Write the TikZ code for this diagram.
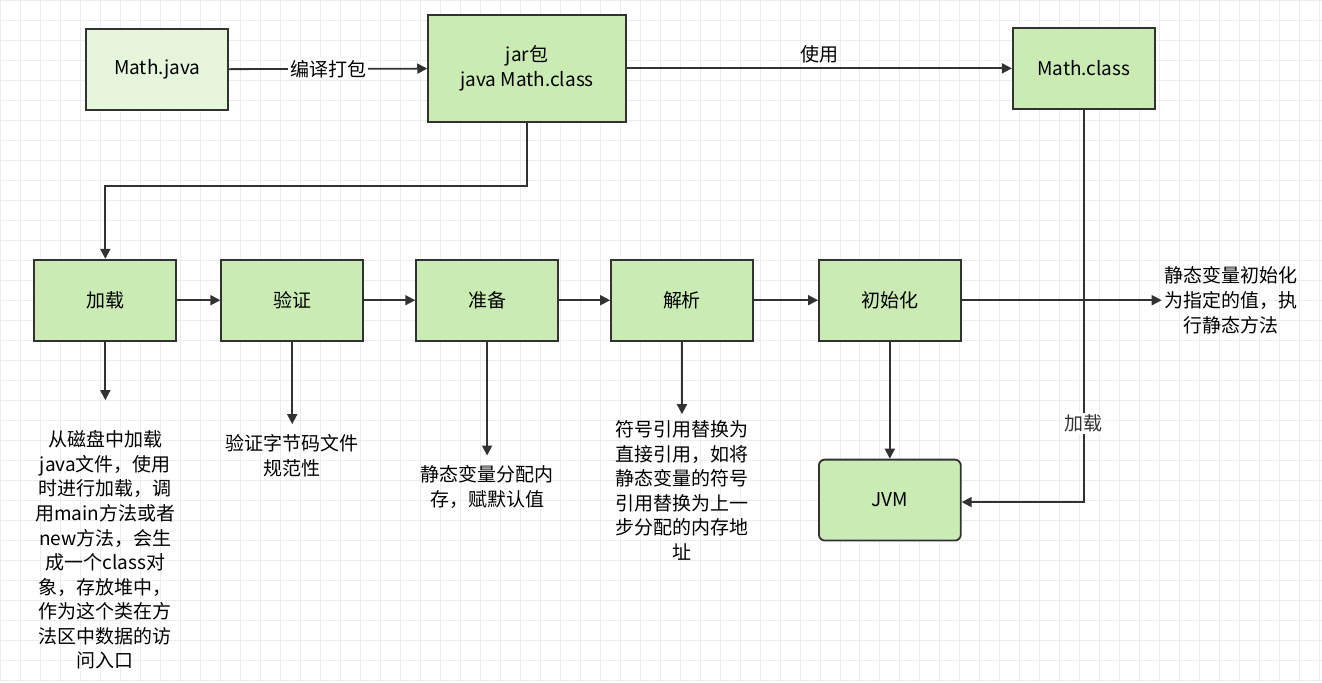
\documentclass[tikz,border=0pt]{standalone}
\usepackage{fontspec}
\setmainfont{Noto Sans CJK SC}
\usetikzlibrary{positioning, arrows.meta, calc}
\definecolor{boxfill}{RGB}{202,236,180}
\definecolor{lightfill}{RGB}{230,246,220}
\definecolor{linecol}{RGB}{50,50,50}

\begin{document}
\begin{tikzpicture}[
			x=0.5pt, y=-0.5pt,
			font=\fontsize{9.5}{12.3}\selectfont,
			box/.style={
				draw=linecol,
				fill=boxfill,
				minimum width=71pt,
				minimum height=40.5pt,
				line width=0.9pt
			},
			note/.style={
				align=center,
				inner sep=1pt
			},
			every edge/.style={
				draw=linecol,
				-{Triangle[length=5pt,width=5pt]},
				line width=0.9pt
			}
			]
			% Background
			\fill[white] (0,0) rectangle (1322,682);
			\draw[gray!15, step=10pt] (0,0) grid (1322,682);
			\useasboundingbox (0,0) rectangle (1322,682);
			
			% Nodes
			\node[box, fill=lightfill] (java) at (157,69) {Math.java};
			\node[box, minimum width=99pt, minimum height=53.5pt, align=center] (jar) at (527,68) {jar包\\java Math.class};
			\node[box] (cls) at (1084,68) {Math.class};
			\node[box] (load) at (105,300) {加载};
			\node[box] (verify) at (292,300) {验证};
			\node[box] (prep) at (487,300) {准备};
			\node[box] (resolve) at (682,300) {解析};
			\node[box] (init) at (890,300) {初始化};
			\node[box, rounded corners=3pt] (jvm) at (890,500) {JVM};
			
			% Notes
			\node[note, anchor=north] (tload) at (105,428) {从磁盘中加载\\java文件，使用\\时进行加载，调\\用main方法或者\\new方法，会生\\成一个class对\\象，存放堆中，\\作为这个类在方\\法区中数据的访\\问入口};
			\node[note, anchor=north] (tverify) at (292,432) {验证字节码文件\\规范性};
			\node[note, anchor=north] (tprep) at (487,463) {静态变量分配内\\存，赋默认值};
			\node[note, anchor=north] (tresolve) at (682,418) {符号引用替换为\\直接引用，如将\\静态变量的符号\\引用替换为上一\\步分配的内存地\\址};
			\node[note, anchor=west] (tinit) at (1162,300) {静态变量初始化\\为指定的值，执\\行静态方法};
			\coordinate (c1) at (527,186);
			\coordinate (c2) at (105,186);
			\coordinate (c3) at (1084,502);
			
			% Connectors
			\path
			(java) edge node[fill=white, inner sep=1pt] {编译打包} (jar)
			(jar) edge node[above, inner sep=2pt] {使用} (cls)
			(load) edge (verify)
			(verify) edge (prep)
			(prep) edge (resolve)
			(resolve) edge (init)
			(init) edge (tinit)
			(init) edge (jvm)
			(load) edge ($(tload.north)+(0,-28)$)
			(verify) edge ($(tverify.north)+(0,-8)$)
			(prep) edge ($(prep.south)+(0,114)$)
			(resolve) edge ($(tresolve.north)+(0,-4)$);
			\draw[linecol, line width=0.9pt, -{Triangle[length=5pt,width=5pt]}] (jar.south) |- (c2) -- (load.north);
			\draw[linecol, line width=0.9pt, -{Triangle[length=5pt,width=5pt]}] (cls.south) -- node[pos=0.8, fill=white, inner sep=1pt] {加载} (c3) -- (jvm.east |- c3);
		\end{tikzpicture}
\end{document}
